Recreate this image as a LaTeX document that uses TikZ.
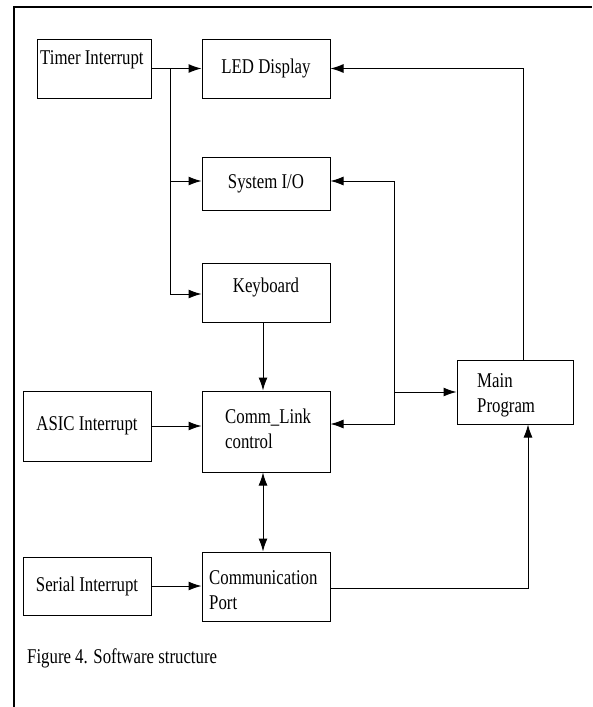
\documentclass[tikz,border=0pt]{standalone}
\usepackage{fontspec}
\setmainfont{Liberation Serif}[FakeStretch=0.8]
\usetikzlibrary{arrows.meta}
\begin{document}
\begin{tikzpicture}[x=1pt,y=-1pt,
  box/.style={draw, line width=1pt, inner sep=0pt, align=center, font=\fontsize{21}{25}\selectfont},
  txt/.style={inner sep=0pt, align=left, font=\fontsize{21}{25}\selectfont},
  conn/.style={line width=1pt, -{Latex[length=13pt,width=9pt]}},
  conn2/.style={line width=1pt, {Latex[length=13pt,width=9pt]}-{Latex[length=13pt,width=9pt]}},
  plain/.style={line width=1pt}]
\useasboundingbox (0,0) rectangle (592,707);
\draw[line width=1.5pt] (14,707) -- (14,7) -- (592,7);
% boxes
\node[box, minimum width=114pt, minimum height=59pt] (timer) at (94,68.5) {};
\node[txt, anchor=base west] (timertxt) at (40,64) {Timer Interrupt};
\node[box, minimum width=128pt, minimum height=59pt] (led) at (266,68.5) {LED Display};
\node[box, minimum width=128pt, minimum height=53pt] (sysio) at (266,183.5) {System I/O};
\node[box, minimum width=128pt, minimum height=59pt] (kbd) at (266,292.5) {};
\node[txt, anchor=center] (kbdtxt) at (266,287) {Keyboard};
\node[box, minimum width=128pt, minimum height=81pt] (comm) at (266,431.5) {};
\node[txt, anchor=west] (commtxt) at (225,429) {Comm\_Link\\control};
\node[box, minimum width=128pt, minimum height=70pt] (asic) at (87,426) {ASIC Interrupt};
\node[box, minimum width=128pt, minimum height=69pt] (port) at (266,586.5) {};
\node[txt, anchor=west] (porttxt) at (209,590.5) {Communication\\Port};
\node[box, minimum width=128pt, minimum height=58pt] (serial) at (87,586) {Serial Interrupt};
\node[box, minimum width=116pt, minimum height=64pt] (main) at (515,392) {};
\node[txt, anchor=west] (maintxt) at (477,395.5) {Main\\Program};
\node[txt, anchor=west] (caption) at (27,658) {Figure 4. Software structure};
% junctions
\coordinate (tj) at (170,68.5);
\coordinate (bus) at (394,392);
% timer fan-out
\draw[conn] (timer.east) -- (led.west);
\draw[plain] (tj) |- (170,294);
\draw[conn] (tj) |- ([yshift=2.5pt]sysio.west);
\draw[conn] (tj) |- ([yshift=-1.5pt]kbd.west);
% keyboard to comm
\draw[conn] ([xshift=-3pt]kbd.south) -- ([xshift=-3pt]comm.north);
% asic to comm
\draw[conn] (asic.east) -- (asic.east -| comm.west);
% comm <-> port
\draw[conn2] ([xshift=-3pt]comm.south) -- ([xshift=-3pt]port.north);
% serial to port
\draw[conn] (serial.east) -- (serial.east -| port.west);
% bus: sysio <-> comm, branch to main
\draw[conn2] ([yshift=2.5pt]sysio.east) -| (394,424) -- (comm.east |- 0,424);
\draw[conn] (bus) -- (main.west);
% main to led
\draw[conn] ([xshift=8pt]main.north) |- (led.east);
% port to main
\draw[conn] ([yshift=-1.5pt]port.east) -| ([xshift=13pt]main.south);
\end{tikzpicture}
\end{document}
